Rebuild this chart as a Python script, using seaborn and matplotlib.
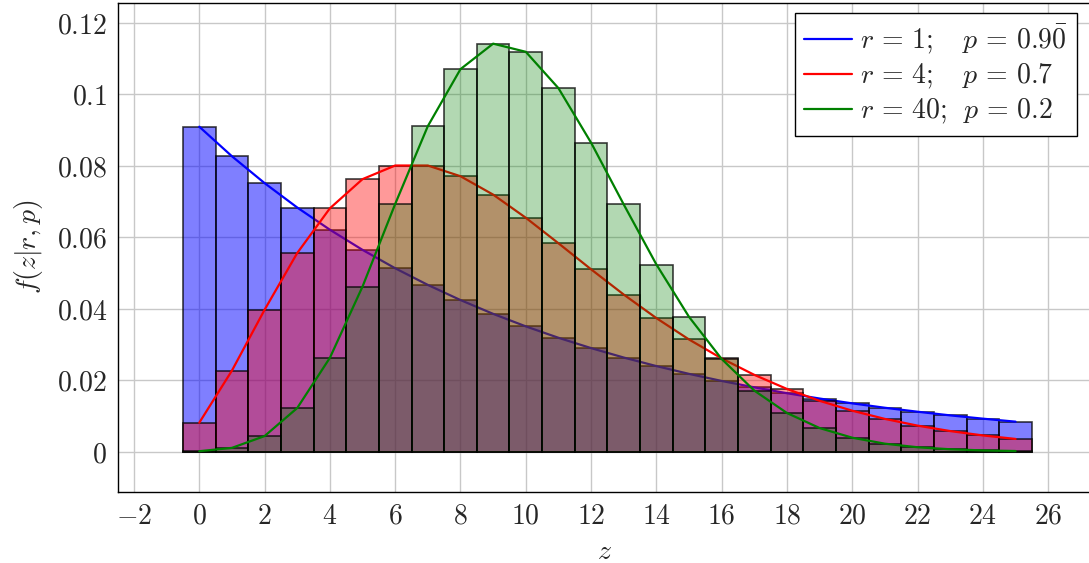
import matplotlib
matplotlib.use("Agg")
import matplotlib.pyplot as plt
from matplotlib.ticker import FuncFormatter, MultipleLocator
import numpy as np
import pandas as pd
import seaborn as sns

# Negative binomial probabilities f(z | r, p) for z = 0..25
z = list(range(26))
pmf_r1 = [0.09091, 0.08264, 0.07513, 0.06830, 0.06209, 0.05645, 0.05131, 0.04665,
          0.04241, 0.03855, 0.03505, 0.03186, 0.02897, 0.02633, 0.02394, 0.02176,
          0.01978, 0.01799, 0.01635, 0.01486, 0.01351, 0.01228, 0.01117, 0.01015,
          0.00923, 0.00839]
pmf_r4 = [0.00810, 0.02268, 0.03969, 0.05557, 0.06807, 0.07624, 0.08005, 0.08005,
          0.07705, 0.07191, 0.06544, 0.05830, 0.05101, 0.04395, 0.03736, 0.03138,
          0.02608, 0.02148, 0.01754, 0.01422, 0.01145, 0.00916, 0.00728, 0.00576,
          0.00454, 0.00356]
pmf_r40 = [0.00013, 0.00106, 0.00436, 0.01221, 0.02625, 0.04619, 0.06929, 0.09107,
           0.10701, 0.11414, 0.11186, 0.10169, 0.08643, 0.06915, 0.05236, 0.03770,
           0.02592, 0.01707, 0.01081, 0.00660, 0.00390, 0.00223, 0.00123, 0.00067,
           0.00035, 0.00018]
labels = [r"$r \,=\, 1;\quad p \,=\, 0.9\bar{0}$",
          r"$r \,=\, 4;\quad p \,=\, 0.7$",
          r"$r \,=\, 40;\;\, p \,=\, 0.2$"]
colors = ["#0000ff", "#ff0000", "#008000"]
fill_alpha = [0.5, 0.4, 0.3]

sns.set_theme(style="white")
plt.rcParams["mathtext.fontset"] = "cm"
plt.rcParams["font.family"] = ["DejaVu Serif"]

fig = plt.figure(figsize=(10.89, 5.63), dpi=100)
ax = fig.add_axes([118.3 / 1089, 1 - 491.7 / 563, (1090 - 118.3) / 1089, (491.7 - 2.7) / 563])

ax.grid(True, color="#c8c8c8", linewidth=1.0, zorder=0)
ax.set_axisbelow(True)

handles = []
for vals, col, a, lab in zip([pmf_r1, pmf_r4, pmf_r40], colors, fill_alpha, labels):
    df = pd.DataFrame({"z": z, "f": vals})
    sns.histplot(data=df, x="z", weights="f", discrete=True, color=col,
                 edgecolor="black", linewidth=1.2, ax=ax, zorder=2)
    for patch in ax.patches[-len(z):]:
        patch.set_facecolor(matplotlib.colors.to_rgba(col, a))
        patch.set_edgecolor((0, 0, 0, 0.75))
    sns.lineplot(data=df, x="z", y="f", color=col, linewidth=1.6, ax=ax, zorder=2)
    handles.append(plt.Line2D([], [], color=col, linewidth=1.6, label=lab))

ax.set_xlim(-2.48, 27.28)
ax.set_ylim(-0.0112, 0.1256)
ax.xaxis.set_major_locator(MultipleLocator(2))
ax.yaxis.set_major_locator(MultipleLocator(0.02))

def mformat(v, pos):
    return "$" + ("%g" % round(v, 6)) + "$"

ax.xaxis.set_major_formatter(FuncFormatter(mformat))
ax.yaxis.set_major_formatter(FuncFormatter(mformat))
ax.tick_params(axis="both", which="major", direction="in", length=12, width=1,
               color="#888888", labelsize=20, top=False, right=False, pad=8)

for sp in ax.spines.values():
    sp.set_color("black")
    sp.set_linewidth(1.0)

ax.set_xlabel(r"$z$", fontsize=20, labelpad=6)
ax.set_ylabel(r"$f(z|r,p)$", fontsize=20, labelpad=8)

leg = ax.legend(handles=handles, loc="upper right", bbox_to_anchor=(0.9866, 0.979),
                borderaxespad=0, fontsize=20, frameon=True, fancybox=False,
                edgecolor="black", framealpha=1, handlelength=1.7, handletextpad=0.3,
                labelspacing=0.2, borderpad=0.35)
leg.get_frame().set_linewidth(1.0)

fig.savefig("out.png", dpi=100)
